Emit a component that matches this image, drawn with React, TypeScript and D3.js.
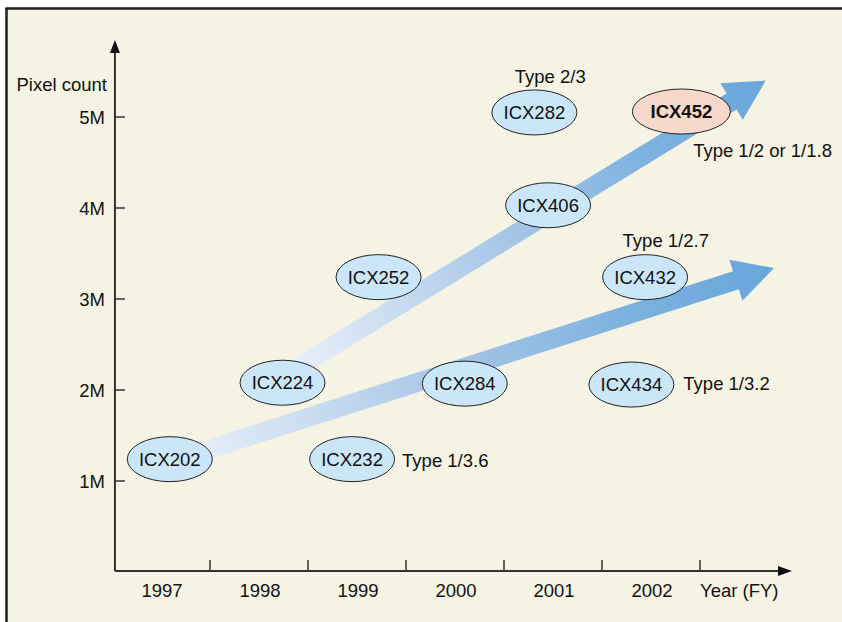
import React from "react";
import * as d3 from "d3";

const years = [1997, 1998, 1999, 2000, 2001, 2002];
const yTicks = [1, 2, 3, 4, 5];
const yTickLabels = ["1M", "2M", "3M", "4M", "5M"];

const chipNames = ["ICX202", "ICX224", "ICX232", "ICX252", "ICX284", "ICX406", "ICX282", "ICX452", "ICX432", "ICX434"];
const chipYears = [1997.09, 1998.24, 1998.95, 1999.22, 2000.1, 2000.95, 2000.81, 2002.31, 2001.94, 2001.8];
const chipPixels = [1.24, 2.08, 1.24, 3.24, 2.07, 4.03, 5.05, 5.06, 3.24, 2.06];
const chipHighlight = [false, false, false, false, false, false, false, true, false, false];

const typeTexts = ["Type 2/3", "Type 1/2 or 1/1.8", "Type 1/2.7", "Type 1/3.2", "Type 1/3.6"];
const typeYears = [2000.61, 2002.43, 2001.71, 2002.33, 1999.46];
const typePixels = [5.37, 4.56, 3.57, 2.0, 1.15];

const arrowStartYears = [1998.32, 1997.2];
const arrowStartPixels = [2.2, 1.25];
const arrowEndYears = [2003.17, 2003.255];
const arrowEndPixels = [5.4, 3.34];

const FONT = "'Liberation Sans', Arial, Helvetica, sans-serif";
const FS = 18.5;

function arrowPath(sx: number, sy: number, tx: number, ty: number, w: number, L: number, W: number) {
  const dx = tx - sx, dy = ty - sy;
  const len = Math.hypot(dx, dy);
  const ux = dx / len, uy = dy / len;
  const nx = -uy, ny = ux;
  const bx = tx - ux * L, by = ty - uy * L;
  const p = d3.path();
  p.moveTo(sx + nx * w / 2, sy + ny * w / 2);
  p.lineTo(bx + nx * w / 2, by + ny * w / 2);
  p.lineTo(bx + nx * W / 2, by + ny * W / 2);
  p.lineTo(tx, ty);
  p.lineTo(bx - nx * W / 2, by - ny * W / 2);
  p.lineTo(bx - nx * w / 2, by - ny * w / 2);
  p.lineTo(sx - nx * w / 2, sy - ny * w / 2);
  p.closePath();
  return p.toString();
}

export default function App() {
  const width = 842, height = 622;
  const x = d3.scaleLinear().domain([1996.5, 2002.5]).range([112, 700]);
  const y = d3.scaleLinear().domain([0, 5]).range([572, 117]);
  const axisX = x(1996.53);
  const axisY = y(0) - 1;
  const boundaries = years.map((yr) => yr + 0.5);

  return (
    <div style={{ position: "absolute", left: 0, top: 0 }}>
      <svg width={width} height={height} style={{ display: "block" }} fontFamily={FONT}>
        <defs>
          {arrowStartYears.map((_, i) => (
            <linearGradient
              key={i}
              id={`ag${i}`}
              gradientUnits="userSpaceOnUse"
              x1={x(arrowStartYears[i])}
              y1={y(arrowStartPixels[i])}
              x2={x(arrowEndYears[i])}
              y2={y(arrowEndPixels[i])}
            >
              <stop offset="0" stopColor="#eaf1f9" />
              <stop offset="0.45" stopColor="#a7c6e7" />
              <stop offset="0.75" stopColor="#7db2df" />
              <stop offset="1" stopColor="#68a6db" />
            </linearGradient>
          ))}
        </defs>
        <rect x={0} y={0} width={width} height={height} fill="#ffffff" />
        <rect x={7} y={8} width={width - 7} height={height - 8} fill="#f5f3e3" />
        <line x1={5.5} y1={8.5} x2={width} y2={8.5} stroke="#1e1e1e" strokeWidth={2.5} />
        <line x1={6.5} y1={8} x2={6.5} y2={height} stroke="#1e1e1e" strokeWidth={2.5} />

        {/* axes */}
        <line x1={axisX} y1={axisY} x2={axisX} y2={52} stroke="#333" strokeWidth={2} />
        <path d={`M${axisX},40 L${axisX - 5},53 L${axisX + 5},53 Z`} fill="#111" />
        <line x1={axisX} y1={axisY} x2={780} y2={axisY} stroke="#333" strokeWidth={2} />
        <path d={`M792,${axisY} L778,${axisY - 5} L778,${axisY + 5} Z`} fill="#111" />

        {boundaries.map((b) => (
          <line key={b} x1={x(b)} y1={axisY} x2={x(b)} y2={axisY - 11} stroke="#333" strokeWidth={1.5} />
        ))}
        {years.map((yr) => (
          <text key={yr} x={x(yr) + 1} y={597} textAnchor="middle" fontSize={FS} fill="#111">
            {yr}
          </text>
        ))}
        <text x={700} y={597} fontSize={FS} fill="#111">Year (FY)</text>

        {yTicks.map((t, i) => (
          <g key={t}>
            <line x1={axisX} y1={y(t)} x2={axisX + 10} y2={y(t)} stroke="#333" strokeWidth={1.5} />
            <text x={105} y={y(t) + 6.5} textAnchor="end" fontSize={FS} fill="#111">
              {yTickLabels[i]}
            </text>
          </g>
        ))}
        <text x={107} y={91} textAnchor="end" fontSize={FS} fill="#111">Pixel count</text>

        {/* arrows */}
        {arrowStartYears.map((_, i) => (
          <path
            key={i}
            d={arrowPath(
              x(arrowStartYears[i]),
              y(arrowStartPixels[i]),
              x(arrowEndYears[i]),
              y(arrowEndPixels[i]),
              19,
              40,
              43
            )}
            fill={`url(#ag${i})`}
          />
        ))}

        {/* chips */}
        {chipNames.map((n, i) => (
          <g key={n}>
            <ellipse
              cx={x(chipYears[i])}
              cy={y(chipPixels[i])}
              rx={chipHighlight[i] ? 49 : 42.5}
              ry={22.5}
              fill={chipHighlight[i] ? "#f7d9cb" : "#cbe6f8"}
              stroke="#222"
              strokeWidth={1}
            />
            <text
              x={x(chipYears[i])}
              y={y(chipPixels[i]) + 6.5}
              textAnchor="middle"
              fontSize={FS}
              fontWeight={chipHighlight[i] ? "bold" : "normal"}
              fill="#111"
            >
              {n}
            </text>
          </g>
        ))}

        {typeTexts.map((t, i) => (
          <text key={t} x={x(typeYears[i])} y={y(typePixels[i])} fontSize={FS} fill="#111">
            {t}
          </text>
        ))}
      </svg>
    </div>
  );
}
